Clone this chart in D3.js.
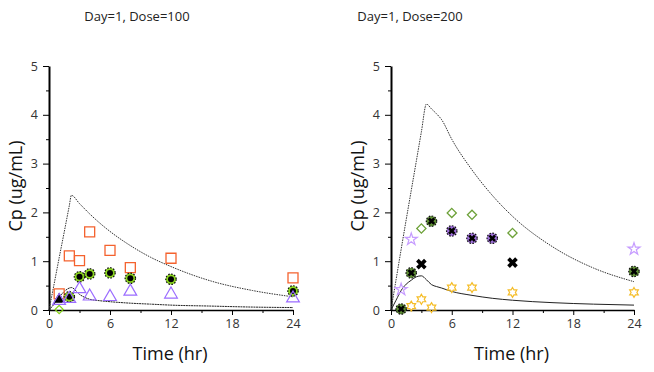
<!DOCTYPE html>
<html>
<head>
<meta charset="utf-8">
<script src="https://cdn.jsdelivr.net/npm/d3@7"></script>
<style>
  body { margin: 0; background: #fff; }
  text { font-family: "Open Sans", "DejaVu Sans", sans-serif; }
</style>
</head>
<body>
<script>
// ---- data ----
const titles = ["Day=1, Dose=100", "Day=1, Dose=200"];
const xTicks = [0, 6, 12, 18, 24];
const xMinor = [3, 9, 15, 21];
const yTicks = [0, 1, 2, 3, 4, 5];
const yMinor = [0.5, 1.5, 2.5, 3.5, 4.5];

// model curves, dose 100
const curveT100 = [0, 0.5, 1, 1.5, 2, 2.2, 3, 4, 5, 6, 8, 10, 12, 16, 20, 24];
const upper100 = [0, 0.53, 1.07, 1.6, 2.14, 2.35, 2.18, 1.97, 1.78, 1.61, 1.32, 1.08, 0.89, 0.59, 0.40, 0.27];
const lower100 = [0, 0.12, 0.26, 0.38, 0.45, 0.46, 0.32, 0.22, 0.19, 0.17, 0.14, 0.12, 0.10, 0.08, 0.06, 0.05];

// model curves, dose 200
const curveT200 = [0, 0.5, 1, 1.5, 2, 2.5, 3, 3.5, 4, 4.5, 5, 6, 8, 10, 12, 16, 20, 24];
const upper200 = [0, 0.62, 1.24, 1.85, 2.45, 3.05, 3.65, 4.22, 4.12, 4.02, 3.9, 3.5, 2.87, 2.35, 1.92, 1.29, 0.86, 0.58];
const lower200 = [0, 0.2, 0.4, 0.53, 0.61, 0.68, 0.70, 0.62, 0.52, 0.48, 0.45, 0.38, 0.30, 0.24, 0.20, 0.15, 0.12, 0.10];

// observations, dose 100
const obsT100 = [1, 2, 3, 4, 6, 8, 12, 24];
const squares100 = [0.33, 1.11, 1.01, 1.60, 1.22, 0.87, 1.06, 0.66];
const triangles100 = [0.19, 0.23, 0.43, 0.28, 0.27, 0.38, 0.32, 0.24];
const limeT100 = [2, 3, 4, 6, 8, 12, 24];
const lime100 = [0.27, 0.68, 0.74, 0.76, 0.65, 0.63, 0.39];
const blackTriT100 = [1];
const blackTri100 = [0.22];
const diamondT100 = [1];
const diamond100 = [0.01];

// observations, dose 200
const diamondT200 = [3, 6, 8, 12];
const diamond200 = [1.67, 1.99, 1.95, 1.58];
const greenXT200 = [1, 2, 4, 24];
const greenX200 = [0.02, 0.76, 1.82, 0.79];
const purpleXT200 = [6, 8, 10];
const purpleX200 = [1.62, 1.47, 1.47];
const blackXT200 = [3, 12];
const blackX200 = [0.94, 0.97];
const lavStarT200 = [1, 2, 24];
const lavStar200 = [0.42, 1.45, 1.25];
const yelStarT200 = [2, 3, 4, 6, 8, 12, 24];
const yelStar200 = [0.08, 0.22, 0.05, 0.46, 0.46, 0.36, 0.36];

const W = 654, H = 372;
const svg = d3.select("body").append("svg")
  .attr("width", W).attr("height", H)
  .attr("viewBox", [0, 0, W, H]);

// six pointed star outline
const hexagram = {
  draw(ctx, size) {
    const r = Math.sqrt(size) / 1.8, ri = r / Math.sqrt(3);
    for (let k = 0; k < 12; k++) {
      const a = (-90 + k * 30) * Math.PI / 180;
      const rr = k % 2 ? ri : r;
      const px = rr * Math.cos(a), py = rr * Math.sin(a);
      k ? ctx.lineTo(px, py) : ctx.moveTo(px, py);
    }
    ctx.closePath();
  }
};

function panel(cfg) {
  const x = d3.scaleLinear().domain([0, 24]).range([cfg.x0, cfg.x1]);
  const y = d3.scaleLinear().domain([0, 5]).range([310, 66]);
  const g = svg.append("g");

  g.append("text").attr("x", cfg.titleX).attr("y", 21)
    .attr("text-anchor", "middle").attr("font-size", 13).attr("fill", "#222")
    .text(cfg.title);

  // minor ticks
  g.append("g").attr("transform", `translate(0,310)`)
    .call(d3.axisBottom(x).tickValues(xMinor).tickSize(3).tickFormat(""))
    .call(a => a.select(".domain").remove());
  g.append("g").attr("transform", `translate(${cfg.x0},0)`)
    .call(d3.axisLeft(y).tickValues(yMinor).tickSize(3).tickFormat(""))
    .call(a => a.select(".domain").remove());

  const xa = g.append("g").attr("transform", `translate(0,310)`)
    .call(d3.axisBottom(x).tickValues(xTicks).tickSize(5).tickPadding(4).tickSizeOuter(0));
  xa.select(".domain").attr("stroke-width", 1.5);
  xa.selectAll("text").attr("font-size", 12.5).attr("fill", "#333");

  const ya = g.append("g").attr("transform", `translate(${cfg.x0},0)`)
    .call(d3.axisLeft(y).tickValues(yTicks).tickSize(6).tickPadding(5)
      .tickSizeOuter(0).tickFormat(d3.format("d")));
  ya.select(".domain").attr("stroke-width", 2);
  ya.selectAll("text").attr("font-size", 12.5).attr("fill", "#333");

  g.append("text").attr("x", (cfg.x0 + cfg.x1) / 2 - 1).attr("y", 360)
    .attr("text-anchor", "middle").attr("font-size", 18).attr("fill", "#111")
    .text("Time (hr)");
  g.append("text")
    .attr("transform", `translate(${cfg.x0 - 27},186) rotate(-90)`)
    .attr("text-anchor", "middle").attr("font-size", 18).attr("fill", "#111")
    .text("Cp (ug/mL)");

  const line = d3.line().curve(d3.curveMonotoneX).x(d => x(d[0])).y(d => y(d[1]));
  g.append("path").datum(d3.zip(cfg.curveT, cfg.upper))
    .attr("d", line).attr("fill", "none").attr("stroke", "#333")
    .attr("stroke-width", 1).attr("stroke-dasharray", "1.5,1");
  g.append("path").datum(d3.zip(cfg.curveT, cfg.lower))
    .attr("d", line).attr("fill", "none").attr("stroke", "#222")
    .attr("stroke-width", 1).attr("stroke-dasharray", cfg.lowerDash || null);

  return { g, x, y };
}

function sym(g, x, y, ts, vs, type, size, fill, stroke, sw, rot) {
  g.append("g").selectAll("path").data(d3.zip(ts, vs)).join("path")
    .attr("transform", d => `translate(${x(d[0])},${y(d[1])})` + (rot ? ` rotate(${rot})` : ""))
    .attr("d", d3.symbol(type, size))
    .attr("fill", fill).attr("stroke", stroke).attr("stroke-width", sw || 1);
}

function ringed(g, x, y, ts, vs, fill, inner) {
  const pts = g.append("g").selectAll("g").data(d3.zip(ts, vs)).join("g")
    .attr("transform", d => `translate(${x(d[0])},${y(d[1])})`);
  pts.append("circle").attr("r", 5.2).attr("fill", fill)
    .attr("stroke", "#111").attr("stroke-width", 1.2).attr("stroke-dasharray", "1.6,1.4");
  if (inner === "dot") {
    pts.append("circle").attr("r", 3).attr("fill", "#000");
  } else {
    pts.append("path").attr("d", d3.symbol(d3.symbolCross, 34))
      .attr("transform", "rotate(45)").attr("fill", "#000");
  }
}

// dose 100
const p1 = panel({ x0: 49, x1: 293, titleX: 137, title: titles[0],
  curveT: curveT100, upper: upper100, lower: lower100, lowerDash: "2,0.6" });
sym(p1.g, p1.x, p1.y, diamondT100, diamond100, d3.symbolSquare, 34, "none", "#86d41a", 1.2, 45);
sym(p1.g, p1.x, p1.y, obsT100, squares100, d3.symbolSquare, 100, "none", "#f4622e", 1.3);
sym(p1.g, p1.x, p1.y, blackTriT100, blackTri100, d3.symbolTriangle, 45, "#000", "#000", 1);
ringed(p1.g, p1.x, p1.y, limeT100, lime100, "#8cd620", "dot");
sym(p1.g, p1.x, p1.y, obsT100, triangles100, d3.symbolTriangle, 70, "none", "#9b6cff", 1.2);

// dose 200
const p2 = panel({ x0: 391, x1: 634, titleX: 410, title: titles[1],
  curveT: curveT200, upper: upper200, lower: lower200 });
sym(p2.g, p2.x, p2.y, diamondT200, diamond200, d3.symbolSquare, 42, "none", "#6ea23a", 1.3, 45);
sym(p2.g, p2.x, p2.y, lavStarT200, lavStar200, d3.symbolStar, 45, "none", "#c69cff", 1.2);
sym(p2.g, p2.x, p2.y, yelStarT200, yelStar200, hexagram, 80, "none", "#f5bd28", 1.2);
ringed(p2.g, p2.x, p2.y, greenXT200, greenX200, "#5f8f35", "x");
ringed(p2.g, p2.x, p2.y, purpleXT200, purpleX200, "#a070dc", "x");
sym(p2.g, p2.x, p2.y, blackXT200, blackX200, d3.symbolCross, 70, "#000", "none", 0, 45);
</script>
</body>
</html>
